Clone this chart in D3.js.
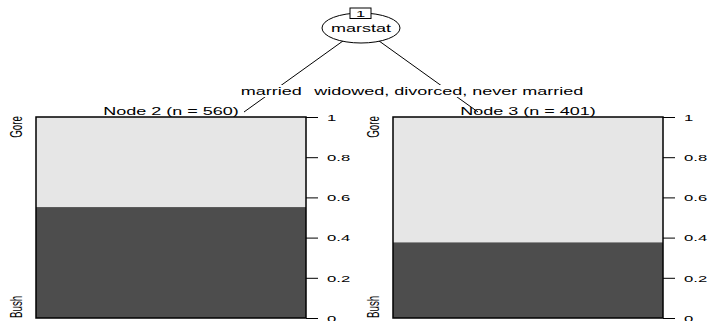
<!DOCTYPE html>
<html><head><meta charset="utf-8">
<script src="https://cdn.jsdelivr.net/npm/d3@7"></script>
<style>body{margin:0;background:#fff}svg{display:block}text{font-family:"Liberation Sans",Arial,sans-serif;fill:#000}</style>
</head><body><svg id="c" width="714" height="321"></svg>
<script>
// ---- data ----
const splitVar = "marstat";
const rootId = "1";
const edgeLabels = ["married", "widowed, divorced, never married"];
const nodeIds = [2, 3];
const nodeN = [560, 401];
const categories = ["Bush", "Gore"];
const bushShare = [0.552, 0.377];
const tickValues = [0, 0.2, 0.4, 0.6, 0.8, 1];
const tickLabels = ["0", "0.2", "0.4", "0.6", "0.8", "1"];
const catColors = ["#4d4d4d", "#e6e6e6"];

// ---- layout ----
const svg = d3.select("#c");
const SX = 1.75;            // horizontal stretch of the reference text
const F = 10.3;
const panelLeft = [36, 393], panelW = 270;
const y = d3.scaleLinear().domain([0, 1]).range([318, 117]);
const root = {x: 361, y: 28};
const ends = [{x: 244, y: 112}, {x: 478, y: 112}];

function txt(g, s, x, yy, opt = {}) {
  const f = opt.size || F, sx = opt.sx || SX;
  const t = g.append("text")
    .attr("transform", `translate(${x},${yy}) scale(${sx},1)` + (opt.rot ? " rotate(-90)" : ""))
    .attr("font-size", f).attr("text-anchor", opt.anchor || "middle").text(s);
  return t;
}

// edges
ends.forEach((e, i) => {
  svg.append("line").attr("x1", root.x).attr("y1", root.y).attr("x2", e.x).attr("y2", e.y)
    .attr("stroke", "#000").attr("stroke-width", 1);
  const ly = 91, t = (ly - root.y) / (e.y - root.y);
  const lx = root.x + t * (e.x - root.x) + (i === 0 ? -2 : 0);
  const g = svg.append("g");
  const w = edgeLabels[i] === "married" ? 66 : 270;
  g.append("rect").attr("x", lx - w / 2).attr("y", ly - 6).attr("width", w).attr("height", 12).attr("fill", "#fff");
  txt(g, edgeLabels[i], lx, ly + 3.5);
});

// root node
svg.append("ellipse").attr("cx", root.x).attr("cy", root.y).attr("rx", 39).attr("ry", 15)
  .attr("fill", "#fff").attr("stroke", "#000").attr("stroke-width", 1);
txt(svg, splitVar, root.x, 32);
svg.append("rect").attr("x", 350).attr("y", 8).attr("width", 21).attr("height", 10.5)
  .attr("fill", "#fff").attr("stroke", "#000").attr("stroke-width", 1);
txt(svg, rootId, 360.5, 17, {size: 9.5});

// terminal nodes
nodeIds.forEach((id, i) => {
  const x0 = panelLeft[i];
  const g = svg.append("g");
  const stack = [
    {cat: categories[0], lo: 0, hi: bushShare[i]},
    {cat: categories[1], lo: bushShare[i], hi: 1}
  ];
  g.selectAll("rect.bar").data(stack).join("rect").attr("class", "bar")
    .attr("x", x0).attr("width", panelW)
    .attr("y", d => y(d.hi)).attr("height", d => y(d.lo) - y(d.hi))
    .attr("fill", (d, k) => catColors[k]);
  g.append("rect").attr("x", x0).attr("y", y(1)).attr("width", panelW).attr("height", y(0) - y(1))
    .attr("fill", "none").attr("stroke", "#000").attr("stroke-width", 1.5);
  txt(g, `Node ${id} (n = ${nodeN[i]})`, x0 + panelW / 2, 115);
  // axis
  const ax = d3.axisRight(y).tickValues(tickValues).tickSize(12).tickFormat((d, k) => tickLabels[k]);
  const ag = g.append("g").attr("transform", `translate(${x0 + panelW},0)`).call(ax);
  ag.select(".domain").remove();
  ag.selectAll(".tick line").attr("stroke", "#000").attr("stroke-width", 1);
  ag.selectAll(".tick text").each(function(d) {
    const s = d3.select(this).text();
    const tk = d3.select(this.parentNode);
    d3.select(this).remove();
    txt(tk, s, 21, 3.3, {size: 9, sx: 1.85, anchor: "start"});
  });
  // category labels (rotated)
  txt(g, categories[0], x0 - 14, y(0), {rot: true, anchor: "start", size: 9.8});
  txt(g, categories[1], x0 - 14, y(1) - 1, {rot: true, anchor: "end", size: 9.8});
});
</script></body></html>
